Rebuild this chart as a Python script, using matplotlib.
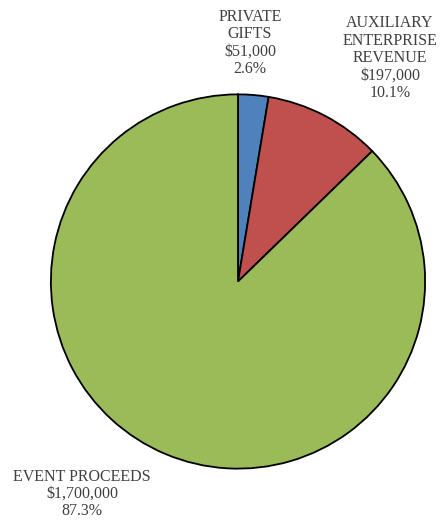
import matplotlib.pyplot as plt

# Revenue sources
categories = ['PRIVATE\nGIFTS', 'AUXILIARY\nENTERPRISE\nREVENUE', 'EVENT PROCEEDS']
amounts = [51000, 197000, 1700000]
percents = [2.6, 10.1, 87.3]
colors = ['#4F81BD', '#C0504D', '#9BBB59']

W, H = 440, 524
fig = plt.figure(figsize=(W / 100, H / 100), dpi=100)

# pie centre and radius in pixels
cx, cy, r = 238, 281.5, 189
ax = fig.add_axes([(cx - r) / W, (H - cy - r) / H, 2 * r / W, 2 * r / H])
ax.pie(amounts, colors=colors, startangle=90, counterclock=False,
       wedgeprops=dict(edgecolor='black', linewidth=1.3))
ax.set_xlim(-1.01, 1.01)
ax.set_ylim(-1.01, 1.01)
ax.set_aspect('equal')
ax.axis('off')

# label positions (pixel centres of each text block)
label_pos = [(250, 43), (390, 58), (82, 494)]
for name, amt, pct, (lx, ly) in zip(categories, amounts, percents, label_pos):
    fig.text(lx / W, 1 - ly / H, f'{name}\n${amt:,}\n{pct}%',
             ha='center', va='center', multialignment='center',
             fontsize=11.5, family='Liberation Serif', color='#404040',
             linespacing=1.12)

fig.savefig('out.png', dpi=100, facecolor='white')
